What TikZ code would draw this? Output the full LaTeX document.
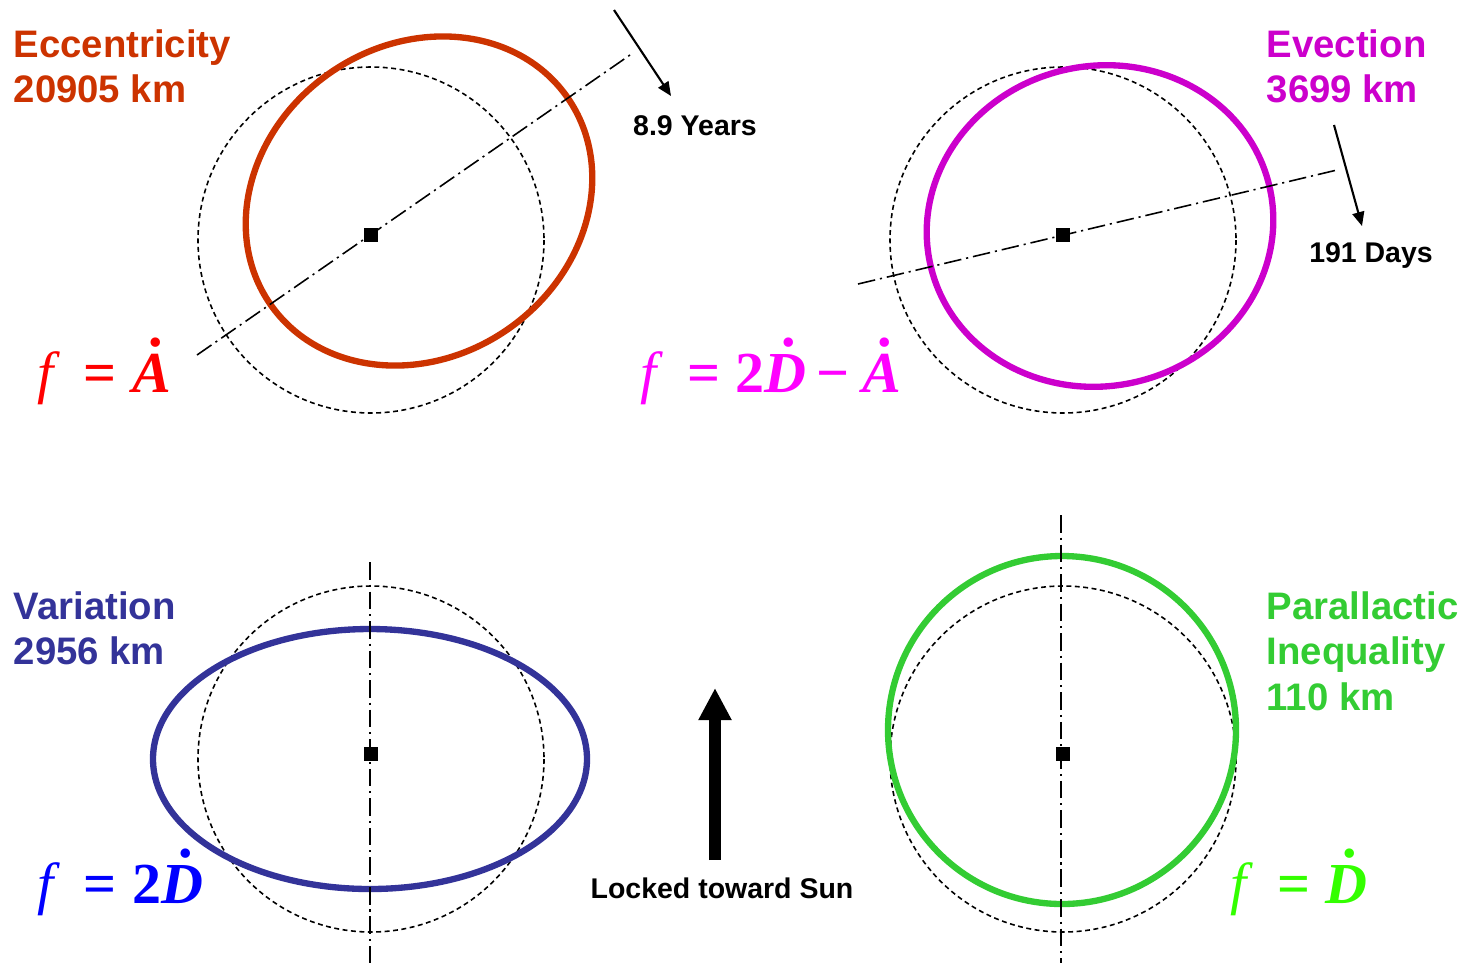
\documentclass[tikz,border=0pt]{standalone}
\usepackage{fontspec}
\setmainfont{Liberation Sans}
\newfontfamily\timesfont{Liberation Serif}
\usetikzlibrary{arrows.meta}
\definecolor{EccClr}{RGB}{204,51,0}
\definecolor{EvecClr}{RGB}{204,0,204}
\definecolor{VarClr}{RGB}{51,51,153}
\definecolor{ParClr}{RGB}{51,204,51}
\definecolor{EccFml}{RGB}{255,0,0}
\definecolor{EvecFml}{RGB}{255,0,255}
\definecolor{VarFml}{RGB}{0,0,255}
\definecolor{ParFml}{RGB}{51,255,0}
\newcommand{\dotabove}[1]{\leavevmode\setbox0=\hbox{#1}\rlap{\hbox to\wd0{\hss\kern0.12em\raisebox{0.78em}{.}\hss}}\box0}
\newcommand{\fvar}{{\itshape f}}
\newcommand{\eqsign}{\hspace{0.52em}{\bfseries =}\hspace{0.27em}}
\newcommand{\minsign}{\hspace{0.17em}{\bfseries −}\hspace{0.22em}}

\begin{document}
\begin{tikzpicture}[x=0.01cm,y=-0.01cm,
  orbit/.style={line width=1.8pt},
  refcircle/.style={line width=0.45pt,dash pattern=on 1.4pt off 1pt},
  axisline/.style={line width=0.45pt,dash pattern=on 5pt off 1.4pt on 0.6pt off 1.4pt},
  centre/.style={fill=black,minimum size=0.14cm,inner sep=0pt},
  headline/.style={font=\bfseries\fontsize{10.9}{12.9}\selectfont,anchor=north west,align=left,inner sep=0pt},
  notetext/.style={font=\bfseries\fontsize{8.1}{9.7}\selectfont,inner sep=0pt},
  formula/.style={font=\timesfont\fontsize{16.5}{20}\selectfont,anchor=base west,inner sep=0pt},
  pointer/.style={line width=0.6pt,-{Triangle[length=0.14cm,width=0.12cm]}},
  sunarrow/.style={line width=0.12cm,-{Triangle[length=0.32cm,width=0.31cm]}}]
\useasboundingbox (0,0) rectangle (1464,963);

\draw[refcircle] (371,240) circle [radius=173];
\draw[refcircle] (1063,240) circle [radius=173];
\draw[refcircle] (371,759) circle [radius=173];
\draw[refcircle] (1063,759) circle [radius=173];

\draw[orbit,EccClr,rotate around={34.8:(419,201)}] (419,201) ellipse [x radius=181,y radius=156];
\draw[orbit,EvecClr,rotate around={13.4:(1100,226)}] (1100,226) ellipse [x radius=174,y radius=160];
\draw[orbit,VarClr] (370,759) ellipse [x radius=217,y radius=130];
\draw[orbit,ParClr] (1062,730) circle [radius=174];

\coordinate (eccA) at (197,355);
\coordinate (eccB) at (630,55);
\coordinate (evecA) at (858,284);
\coordinate (evecB) at (1337,170);
\coordinate (varA) at (370,562);
\coordinate (varB) at (370,963);
\coordinate (parA) at (1061,515);
\coordinate (parB) at (1061,963);
\draw[axisline] (eccA) -- (eccB);
\draw[axisline] (evecA) -- (evecB);
\draw[axisline] (varA) -- (varB);
\draw[axisline] (parA) -- (parB);

\node[centre] (ctrEcc) at (371,235) {};
\node[centre] (ctrEvec) at (1063,235) {};
\node[centre] (ctrVar) at (371,754) {};
\node[centre] (ctrPar) at (1063,754) {};

\node[headline,text=EccClr] (eccLbl) at (13,29) {Eccentricity\\20905 km};
\node[headline,text=EvecClr] (evecLbl) at (1266,29) {Evection\\3699 km};
\node[headline,text=VarClr] (varLbl) at (13,591) {Variation\\2956 km};
\node[headline,text=ParClr] (parLbl) at (1266,591) {Parallactic\\Inequality\\110 km};

\node[formula,text=EccFml] (eccFml) at (37,392) {\fvar\eqsign{\bfseries\dotabove{\itshape A}}};
\node[formula,text=EvecFml] (evecFml) at (640,392) {\fvar\eqsign{\bfseries 2\dotabove{\itshape D}}\minsign{\bfseries\dotabove{\itshape A}}};
\node[formula,text=VarFml] (varFml) at (37,903) {\fvar\eqsign{\bfseries 2\dotabove{\itshape D}}};
\node[formula,text=ParFml] (parFml) at (1230,903) {\fvar\eqsign{\bfseries\dotabove{\itshape D}}};

\coordinate (yrsFrom) at (614,10);
\coordinate (yrsTo) at (671,96);
\node[notetext] (yrs) at (695,126) {8.9 Years};
\draw[pointer] (yrsFrom) -- (yrsTo);
\coordinate (daysFrom) at (1334,125);
\coordinate (daysTo) at (1362,226);
\node[notetext] (days) at (1371,255) {191 Days};
\draw[pointer] (daysFrom) -- (daysTo);

\coordinate (sunFrom) at (715,860);
\coordinate (sunTo) at (715,688);
\draw[sunarrow] (sunFrom) -- (sunTo);
\node[notetext] (locked) at (722,888) {Locked toward Sun};
\end{tikzpicture}
\end{document}
